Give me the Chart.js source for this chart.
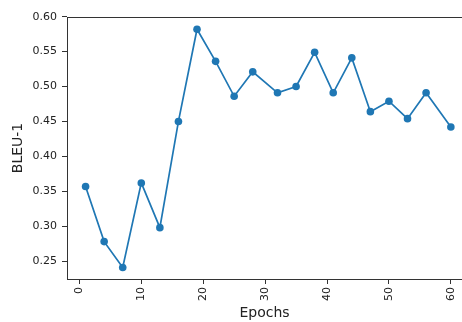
<!DOCTYPE html>
<html>
<head>
<meta charset="utf-8">
<script src="https://cdn.jsdelivr.net/npm/chart.js@4/dist/chart.umd.min.js"></script>
<style>
  html, body { margin: 0; padding: 0; background: #fff; }
  #wrap { width: 462px; height: 322px; overflow: hidden; }
</style>
</head>
<body>
<div id="wrap"><canvas id="chart" width="462" height="322"></canvas></div>
<script>
// values
const epochs = [1, 4, 7, 10, 13, 16, 19, 22, 25, 28, 32, 35, 38, 41, 44, 47, 50, 53, 56, 60];
const bleu1 = [0.357, 0.278, 0.241, 0.362, 0.298, 0.450, 0.582, 0.536, 0.486, 0.521, 0.491, 0.500,
  0.549, 0.491, 0.541, 0.464, 0.479, 0.454, 0.491, 0.442];
const xTicks = [0, 10, 20, 30, 40, 50, 60];
const yTicks = [0.25, 0.30, 0.35, 0.40, 0.45, 0.50, 0.55, 0.60];

const font = "'DejaVu Sans', sans-serif";
const axisColor = "#333";

// matplotlib-like top spine (right one is off the picture)
const topSpine = {
  id: "topSpine",
  afterDraw(chart) {
    const { ctx, chartArea } = chart;
    ctx.save();
    ctx.strokeStyle = axisColor;
    ctx.lineWidth = 1;
    ctx.beginPath();
    ctx.moveTo(chartArea.left, chartArea.top + 0.5);
    ctx.lineTo(chart.width, chartArea.top + 0.5);
    ctx.stroke();
    ctx.restore();
  },
};

new Chart(document.getElementById("chart").getContext("2d"), {
  type: "line",
  data: {
    datasets: [
      {
        data: epochs.map((e, i) => ({ x: e, y: bleu1[i] })),
        borderColor: "#1f77b4",
        backgroundColor: "#1f77b4",
        borderWidth: 1.7,
        pointRadius: 3.8,
        pointBorderWidth: 0,
        tension: 0,
      },
    ],
  },
  options: {
    responsive: false,
    animation: false,
    layout: { autoPadding: false, padding: { top: 17, right: 0, left: 0, bottom: 0 } },
    plugins: { legend: { display: false }, tooltip: { enabled: false } },
    scales: {
      x: {
        type: "linear",
        min: -2,
        max: 61.8,
        afterBuildTicks: (s) => { s.ticks = xTicks.map((v) => ({ value: v })); },
        afterFit: (s) => { s.height = 43; s.paddingLeft = 0; s.paddingRight = 0; },
        grid: { drawOnChartArea: false, tickLength: 5, color: axisColor },
        border: { color: axisColor, width: 1 },
        ticks: {
          minRotation: 90,
          maxRotation: 90,
          padding: 3,
          color: "#222",
          font: { family: font, size: 11 },
        },
        title: {
          display: true,
          text: "Epochs",
          color: "#222",
          font: { family: font, size: 14 },
          padding: { top: 0, bottom: 0 },
        },
      },
      y: {
        min: 0.2245,
        max: 0.5995,
        afterBuildTicks: (s) => { s.ticks = yTicks.map((v) => ({ value: v })); },
        afterFit: (s) => { s.width = 67; s.paddingTop = 0; s.paddingBottom = 0; },
        grid: { drawOnChartArea: false, tickLength: 5, color: axisColor },
        border: { color: axisColor, width: 1 },
        ticks: {
          padding: 5,
          color: "#222",
          font: { family: font, size: 11 },
          callback: (v) => v.toFixed(2),
        },
        title: {
          display: true,
          text: "BLEU-1",
          color: "#222",
          font: { family: font, size: 14 },
          padding: { top: 10, bottom: 0 },
        },
      },
    },
  },
  plugins: [topSpine],
});
</script>
</body>
</html>
